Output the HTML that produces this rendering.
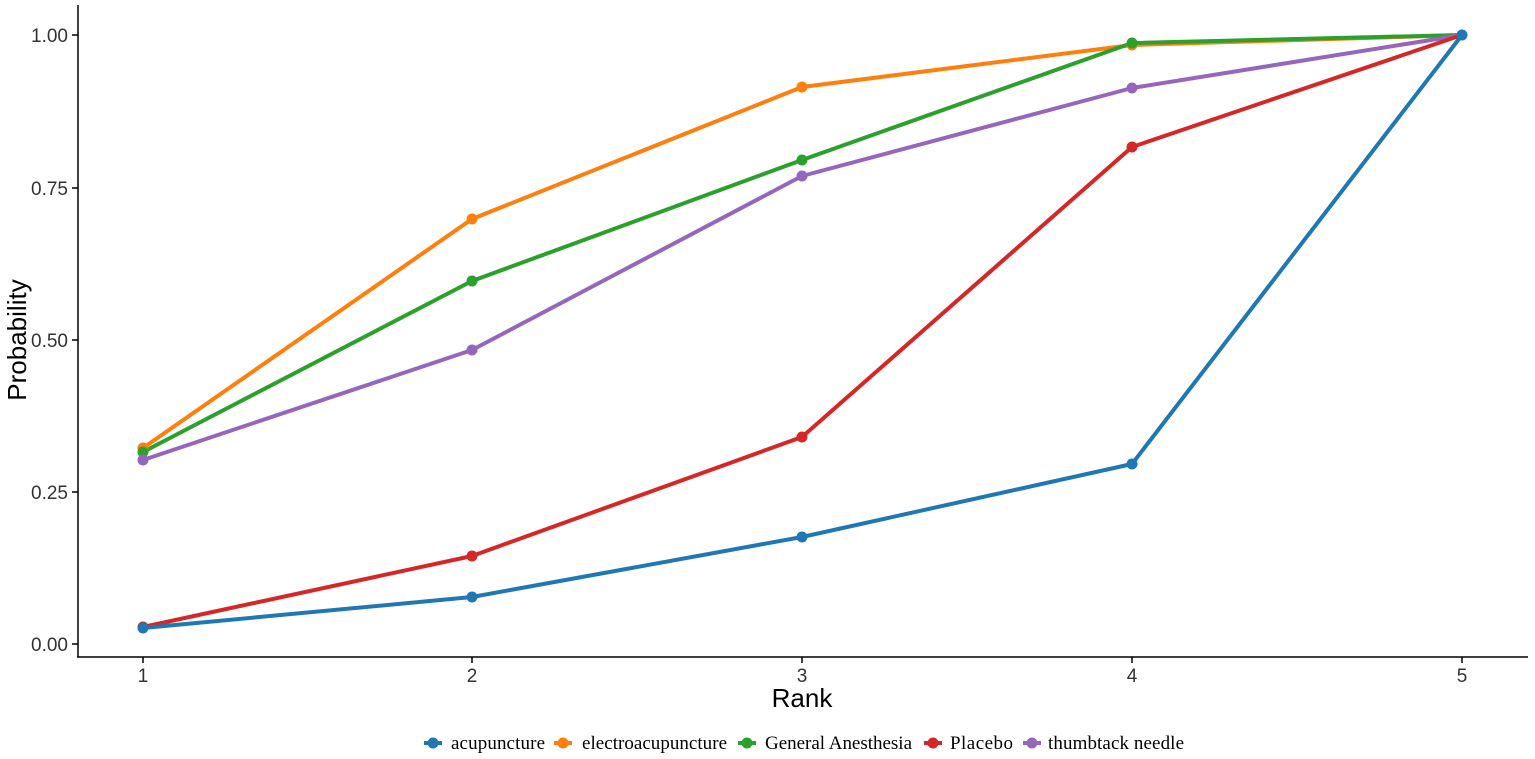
<!DOCTYPE html>
<html><head><style>body{margin:0;background:#fff}svg{display:block}</style></head><body>
<svg width="1535" height="759" xmlns="http://www.w3.org/2000/svg">
<rect width="1535" height="759" fill="#fff"/>
<g stroke="#000" stroke-width="1.5">
<line x1="78" y1="5" x2="78" y2="657"/>
<line x1="77" y1="657" x2="1528" y2="657"/>
<line x1="72" y1="35" x2="78" y2="35"/><line x1="72" y1="188" x2="78" y2="188"/><line x1="72" y1="340" x2="78" y2="340"/><line x1="72" y1="492" x2="78" y2="492"/><line x1="72" y1="644" x2="78" y2="644"/>
<line x1="143" y1="657" x2="143" y2="663"/><line x1="472" y1="657" x2="472" y2="663"/><line x1="802" y1="657" x2="802" y2="663"/><line x1="1132" y1="657" x2="1132" y2="663"/><line x1="1462" y1="657" x2="1462" y2="663"/>
</g>
<g font-family="Liberation Sans, sans-serif" font-size="19" fill="#333" text-anchor="end">
<text x="68" y="42">1.00</text><text x="68" y="195">0.75</text><text x="68" y="347">0.50</text><text x="68" y="499">0.25</text><text x="68" y="651">0.00</text>
</g>
<g font-family="Liberation Sans, sans-serif" font-size="19" fill="#333" text-anchor="middle">
<text x="143" y="682">1</text><text x="472" y="682">2</text><text x="802" y="682">3</text><text x="1132" y="682">4</text><text x="1462" y="682">5</text>
</g>
<text x="802" y="707" font-family="Liberation Sans, sans-serif" font-size="26" text-anchor="middle">Rank</text>
<text transform="translate(26,340) rotate(-90)" font-family="Liberation Sans, sans-serif" font-size="26" text-anchor="middle">Probability</text>
<g fill="none" stroke-width="4" stroke-linejoin="round">
<polyline stroke="#ff7f0e" points="143,448 472,219 802,87 1132,45 1462,35"/>
<polyline stroke="#2ca02c" points="143,452 472,281 802,160 1132,43 1462,35"/>
<polyline stroke="#9467bd" points="143,460 472,350 802,176 1132,88 1462,35"/>
<polyline stroke="#d62728" points="143,627 472,556 802,437 1132,147 1462,35"/>
<polyline stroke="#1f77b4" points="143,628 472,597 802,537 1132,464 1462,35"/>
</g>
<g>
<g fill="#ff7f0e"><circle cx="143" cy="448" r="5.5"/><circle cx="472" cy="219" r="5.5"/><circle cx="802" cy="87" r="5.5"/><circle cx="1132" cy="45" r="5.5"/></g>
<g fill="#2ca02c"><circle cx="143" cy="452" r="5.5"/><circle cx="472" cy="281" r="5.5"/><circle cx="802" cy="160" r="5.5"/><circle cx="1132" cy="43" r="5.5"/></g>
<g fill="#9467bd"><circle cx="143" cy="460" r="5.5"/><circle cx="472" cy="350" r="5.5"/><circle cx="802" cy="176" r="5.5"/><circle cx="1132" cy="88" r="5.5"/></g>
<g fill="#d62728"><circle cx="143" cy="627" r="5.5"/><circle cx="472" cy="556" r="5.5"/><circle cx="802" cy="437" r="5.5"/><circle cx="1132" cy="147" r="5.5"/></g>
<g fill="#1f77b4"><circle cx="143" cy="628" r="5.5"/><circle cx="472" cy="597" r="5.5"/><circle cx="802" cy="537" r="5.5"/><circle cx="1132" cy="464" r="5.5"/><circle cx="1462" cy="35" r="5.5"/></g>
</g>
<g font-family="Liberation Serif, serif" font-size="19" fill="#000">
<line x1="424" y1="743" x2="442" y2="743" stroke="#1f77b4" stroke-width="4"/><circle cx="433" cy="743" r="5.5" fill="#1f77b4"/>
<text x="451" y="749" textLength="94">acupuncture</text>
<line x1="554" y1="743" x2="572" y2="743" stroke="#ff7f0e" stroke-width="4"/><circle cx="563" cy="743" r="5.5" fill="#ff7f0e"/>
<text x="582" y="749" textLength="145">electroacupuncture</text>
<line x1="738" y1="743" x2="756" y2="743" stroke="#2ca02c" stroke-width="4"/><circle cx="747" cy="743" r="5.5" fill="#2ca02c"/>
<text x="765" y="749" textLength="147">General Anesthesia</text>
<line x1="924" y1="743" x2="942" y2="743" stroke="#d62728" stroke-width="4"/><circle cx="933" cy="743" r="5.5" fill="#d62728"/>
<text x="950" y="749" textLength="63">Placebo</text>
<line x1="1023" y1="743" x2="1041" y2="743" stroke="#9467bd" stroke-width="4"/><circle cx="1032" cy="743" r="5.5" fill="#9467bd"/>
<text x="1048" y="749" textLength="136">thumbtack needle</text>
</g>
</svg>
</body></html>
